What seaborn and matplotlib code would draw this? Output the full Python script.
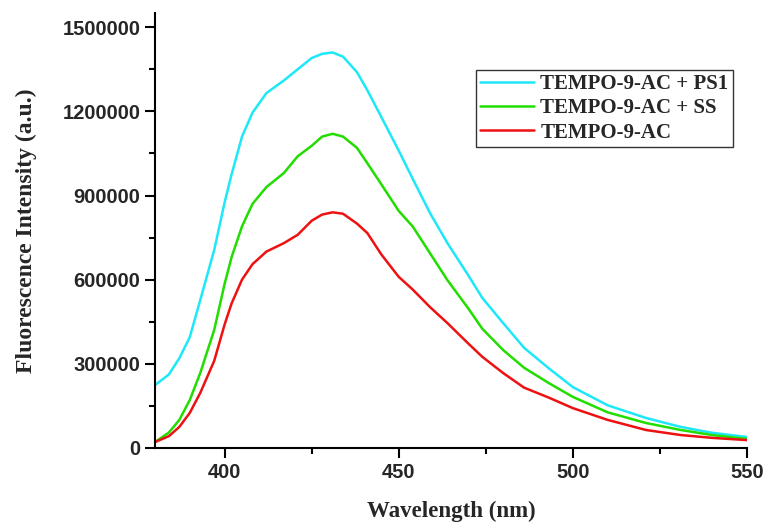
import pandas as pd
import seaborn as sns
import matplotlib.pyplot as plt
from matplotlib.ticker import MultipleLocator

sns.set_theme(style="ticks")
plt.rcParams['font.family'] = ['Liberation Sans', 'DejaVu Sans']

# wavelength grid (nm) and intensities (millions)
wavelength = [380, 384, 387, 390, 393, 397, 400, 402, 405, 408, 412, 417, 421, 425, 428, 431, 434,
              438, 441, 445, 450, 454, 459, 464, 470, 474, 480, 486, 493, 500, 510, 521, 531, 540, 550]
ps1 = [0.224, 0.262, 0.32, 0.395, 0.527, 0.705, 0.875, 0.975, 1.11, 1.195, 1.265, 1.31, 1.35, 1.39,
       1.405, 1.41, 1.395, 1.34, 1.275, 1.18, 1.06, 0.96, 0.837, 0.73, 0.615, 0.535, 0.445, 0.357,
       0.285, 0.217, 0.152, 0.107, 0.075, 0.054, 0.039]
ss = [0.021, 0.055, 0.10, 0.171, 0.267, 0.42, 0.585, 0.68, 0.79, 0.87, 0.93, 0.98, 1.04, 1.077,
      1.11, 1.12, 1.11, 1.07, 1.015, 0.94, 0.845, 0.79, 0.694, 0.598, 0.497, 0.425, 0.349, 0.286,
      0.232, 0.182, 0.127, 0.089, 0.064, 0.046, 0.032]
plain = [0.021, 0.042, 0.075, 0.125, 0.196, 0.31, 0.44, 0.515, 0.60, 0.655, 0.70, 0.73, 0.76, 0.81,
         0.832, 0.84, 0.835, 0.80, 0.766, 0.69, 0.61, 0.565, 0.502, 0.445, 0.372, 0.325, 0.267, 0.215,
         0.18, 0.142, 0.10, 0.064, 0.046, 0.036, 0.028]
labels = ['TEMPO-9-AC + PS1', 'TEMPO-9-AC + SS', 'TEMPO-9-AC']
colors = ['#1EE8F8', '#22DD00', '#EE1111']

rows = []
for lab, vals in zip(labels, [ps1, ss, plain]):
    for w, v in zip(wavelength, vals):
        rows.append((w, v * 1e6, lab))
df = pd.DataFrame(rows, columns=['Wavelength', 'Intensity', 'Sample'])

fig = plt.figure(figsize=(7.66, 5.27), dpi=100)
ax = fig.add_axes([0.2023, 0.15, 0.7728, 0.825])
sns.lineplot(data=df, x='Wavelength', y='Intensity', hue='Sample', hue_order=labels,
             palette=dict(zip(labels, colors)), linewidth=1.8, ax=ax)

ax.set_xlim(380, 550)
ax.set_ylim(0, 1550000)
ax.xaxis.set_major_locator(MultipleLocator(50))
ax.xaxis.set_minor_locator(MultipleLocator(25))
ax.yaxis.set_major_locator(MultipleLocator(300000))
ax.yaxis.set_minor_locator(MultipleLocator(150000))
ax.ticklabel_format(axis='y', style='plain')
sns.despine(ax=ax)
for s in ['left', 'bottom']:
    ax.spines[s].set_linewidth(1.5)
    ax.spines[s].set_color('black')
ax.tick_params(which='major', length=7, width=1.5, color='black', labelsize=14.5, direction='out')
ax.tick_params(which='minor', length=4, width=1.5, color='black', direction='out')
for t in ax.get_xticklabels() + ax.get_yticklabels():
    t.set_fontweight('bold')

ax.set_xlabel('Wavelength (nm)', family='Liberation Serif', fontweight='bold', fontsize=16.5, labelpad=14)
ax.set_ylabel('Fluorescence Intensity (a.u.)', family='Liberation Serif', fontweight='bold',
              fontsize=17, labelpad=18)

leg = ax.legend(loc='upper right', bbox_to_anchor=(0.976, 0.869), frameon=True, fancybox=False,
                prop={'family': 'Liberation Serif', 'weight': 'bold', 'size': 15},
                handlelength=2.6, handletextpad=0.3, borderpad=0.2, labelspacing=0.2,
                borderaxespad=0)
leg.get_frame().set_edgecolor('black')
leg.get_frame().set_linewidth(1.0)

plt.savefig('out.png', dpi=100)
